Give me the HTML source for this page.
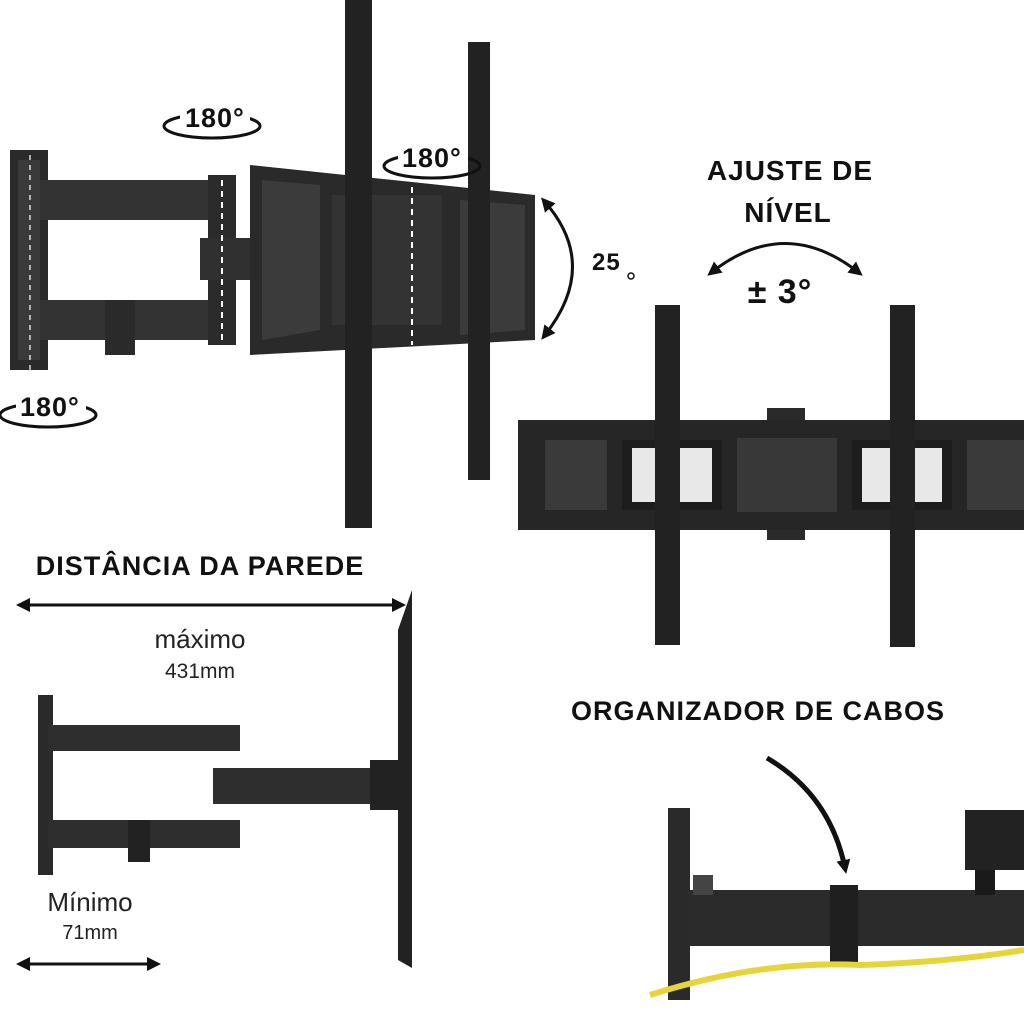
<!DOCTYPE html>
<html><head><meta charset="utf-8"><style>
html,body{margin:0;padding:0;background:#fff}
svg{display:block}
.t{font-family:"Liberation Sans",sans-serif;font-weight:900;fill:#111;letter-spacing:1px}
.n{font-family:"Liberation Sans",sans-serif;fill:#222}
</style></head><body>
<svg width="1024" height="1024" viewBox="0 0 1024 1024" xmlns="http://www.w3.org/2000/svg">
<defs>
<marker id="ah" markerWidth="10" markerHeight="10" refX="8" refY="5" orient="auto" markerUnits="userSpaceOnUse"><path d="M0,0 L10,5 L0,10 Z" fill="#111"/></marker>
<marker id="ah2" markerWidth="14" markerHeight="14" refX="8" refY="7" orient="auto-start-reverse" markerUnits="userSpaceOnUse"><path d="M0,0 L14,7 L0,14 Z" fill="#111"/></marker>
</defs>
<rect width="1024" height="1024" fill="#fff"/>

<!-- top-left mount -->
<rect x="10" y="150" width="38" height="220" fill="#2a2a2a"/>
<rect x="18" y="160" width="22" height="200" fill="#3a3a3a"/>
<rect x="40" y="180" width="190" height="40" fill="#333"/>
<rect x="40" y="300" width="190" height="40" fill="#333"/>
<rect x="105" y="300" width="30" height="55" fill="#2a2a2a"/>
<rect x="208" y="175" width="28" height="170" fill="#2b2b2b"/>
<rect x="200" y="238" width="62" height="42" fill="#303030"/>
<line x1="222" y1="180" x2="222" y2="345" stroke="#fff" stroke-width="2" stroke-dasharray="6,5"/>
<line x1="30" y1="155" x2="30" y2="370" stroke="#ddd" stroke-width="1.5" stroke-dasharray="5,5"/>
<!-- TV plate -->
<polygon points="250,165 535,195 535,340 250,355" fill="#2a2a2a"/>
<polygon points="262,180 320,185 320,330 262,340" fill="#3b3b3b"/>
<polygon points="460,200 525,205 525,330 460,335" fill="#3b3b3b"/>
<rect x="332" y="195" width="110" height="130" fill="#333"/>
<rect x="345" y="0" width="27" height="528" fill="#222"/>
<rect x="468" y="42" width="22" height="438" fill="#222"/>
<line x1="412" y1="165" x2="412" y2="345" stroke="#fff" stroke-width="2" stroke-dasharray="6,5"/>

<!-- rotation labels -->
<g>
<ellipse cx="212" cy="126" rx="48" ry="12" fill="none" stroke="#111" stroke-width="3"/>
<rect x="180" y="98" width="70" height="32" fill="#fff"/>
<text x="185" y="127" class="t" font-size="27">180°</text>
<ellipse cx="432" cy="166" rx="48" ry="12" fill="none" stroke="#111" stroke-width="3"/>
<rect x="398" y="138" width="70" height="32" fill="#fff"/>
<text x="402" y="167" class="t" font-size="27">180°</text>
<ellipse cx="48" cy="415" rx="48" ry="12" fill="none" stroke="#111" stroke-width="3"/>
<rect x="16" y="388" width="70" height="32" fill="#fff"/>
<text x="20" y="416" class="t" font-size="27">180°</text>
</g>

<!-- 25 deg -->
<path d="M545,202 Q600,265 545,335" fill="none" stroke="#111" stroke-width="3" marker-start="url(#ah2)" marker-end="url(#ah2)"/>
<text x="592" y="270" class="t" font-size="24">25</text>
<circle cx="631" cy="276" r="3" fill="none" stroke="#111" stroke-width="1.5"/>

<!-- ajuste de nivel -->
<text x="790" y="180" class="t" font-size="28" text-anchor="middle">AJUSTE DE</text>
<text x="788" y="222" class="t" font-size="28" text-anchor="middle">NÍVEL</text>
<path d="M712,272 Q785,215 858,272" fill="none" stroke="#111" stroke-width="3" marker-start="url(#ah2)" marker-end="url(#ah2)"/>
<text x="780" y="303" class="t" font-size="34" text-anchor="middle">± 3°</text>

<!-- right plate -->
<rect x="767" y="408" width="38" height="132" fill="#2a2a2a"/>
<rect x="518" y="420" width="506" height="110" fill="#262626"/>
<rect x="545" y="440" width="62" height="70" fill="#3a3a3a"/>
<rect x="622" y="440" width="100" height="70" fill="#1d1d1d"/>
<rect x="737" y="438" width="100" height="74" fill="#383838"/>
<rect x="852" y="440" width="100" height="70" fill="#1d1d1d"/>
<rect x="967" y="440" width="57" height="70" fill="#3a3a3a"/>
<rect x="632" y="448" width="80" height="54" fill="#fff" opacity="0.9"/>
<rect x="862" y="448" width="80" height="54" fill="#fff" opacity="0.9"/>
<rect x="655" y="305" width="25" height="340" fill="#222"/>
<rect x="890" y="305" width="25" height="342" fill="#222"/>

<!-- distance -->
<text x="200" y="575" class="t" font-size="27" text-anchor="middle">DISTÂNCIA DA PAREDE</text>
<line x1="22" y1="605" x2="400" y2="605" stroke="#111" stroke-width="3" marker-start="url(#ah2)" marker-end="url(#ah2)"/>
<text x="200" y="648" class="n" font-size="26" text-anchor="middle">máximo</text>
<text x="200" y="678" class="n" font-size="21" text-anchor="middle">431mm</text>

<!-- bottom-left mount -->
<rect x="38" y="695" width="15" height="180" fill="#2a2a2a"/>
<rect x="48" y="725" width="192" height="26" fill="#2e2e2e"/>
<rect x="48" y="820" width="192" height="28" fill="#2e2e2e"/>
<rect x="128" y="820" width="22" height="42" fill="#222"/>
<rect x="213" y="768" width="160" height="36" fill="#2e2e2e"/>
<rect x="370" y="760" width="30" height="50" fill="#222"/>
<polygon points="398,630 412,590 412,968 398,960" fill="#222"/>
<text x="90" y="911" class="n" font-size="26" text-anchor="middle">Mínimo</text>
<text x="90" y="939" class="n" font-size="20" text-anchor="middle">71mm</text>
<line x1="22" y1="964" x2="155" y2="964" stroke="#111" stroke-width="3" marker-start="url(#ah2)" marker-end="url(#ah2)"/>

<!-- organizador -->
<text x="758" y="720" class="t" font-size="27" text-anchor="middle">ORGANIZADOR DE CABOS</text>
<path d="M767,758 Q830,795 845,868" fill="none" stroke="#111" stroke-width="5" marker-end="url(#ah2)"/>

<!-- bottom-right photo -->
<rect x="668" y="808" width="22" height="192" fill="#2a2a2a"/>
<rect x="690" y="890" width="334" height="56" fill="#2b2b2b"/>
<rect x="830" y="885" width="28" height="80" fill="#1f1f1f"/>
<rect x="965" y="810" width="59" height="60" fill="#222"/>
<rect x="975" y="870" width="20" height="25" fill="#1a1a1a"/>
<rect x="693" y="875" width="20" height="20" fill="#444"/>
<path d="M650,995 Q760,960 860,965 Q950,962 1024,950" fill="none" stroke="#e6d43a" stroke-width="6"/>
</svg>
</body></html>
